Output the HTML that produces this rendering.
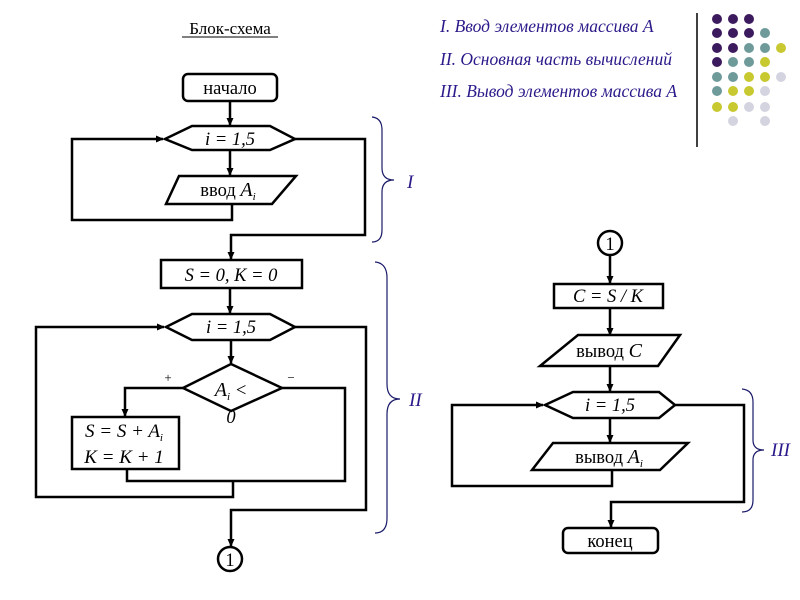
<!DOCTYPE html>
<html><head><meta charset="utf-8"><style>
html,body{margin:0;padding:0;background:#fff;}
svg{display:block;}
text{font-family:"Liberation Serif",serif;}
</style></head><body>
<svg width="800" height="600" viewBox="0 0 800 600" xmlns="http://www.w3.org/2000/svg">
<defs>
<marker id="a" markerWidth="8" markerHeight="8" refX="7" refY="4" orient="auto" markerUnits="userSpaceOnUse">
<path d="M0,0.5 L8,4 L0,7.5 Z" fill="#000"/></marker>
</defs>
<rect width="800" height="600" fill="#fff"/>
<!-- title -->
<text x="230" y="34" font-size="17" text-anchor="middle">Блок-схема</text>
<line x1="182" y1="37" x2="278" y2="37" stroke="#000" stroke-width="1"/>
<!-- legend -->
<g fill="#2a1a8a" font-style="italic" font-size="17.5">
<text x="440" y="32">I. Ввод элементов массива А</text>
<text x="440" y="65">II. Основная часть вычислений</text>
<text x="440" y="97">III. Вывод элементов массива А</text>
</g>
<line x1="697" y1="13" x2="697" y2="147" stroke="#000" stroke-width="1.5"/>
<g>
<circle cx="717" cy="19" r="5" fill="#3b1a5e"/><circle cx="733" cy="19" r="5" fill="#3b1a5e"/><circle cx="749" cy="19" r="5" fill="#3b1a5e"/>
<circle cx="717" cy="33" r="5" fill="#3b1a5e"/><circle cx="733" cy="33" r="5" fill="#3b1a5e"/><circle cx="749" cy="33" r="5" fill="#3b1a5e"/><circle cx="765" cy="33" r="5" fill="#6e9a9a"/>
<circle cx="717" cy="48" r="5" fill="#3b1a5e"/><circle cx="733" cy="48" r="5" fill="#3b1a5e"/><circle cx="749" cy="48" r="5" fill="#6e9a9a"/><circle cx="765" cy="48" r="5" fill="#6e9a9a"/><circle cx="781" cy="48" r="5" fill="#c8c830"/>
<circle cx="717" cy="62" r="5" fill="#3b1a5e"/><circle cx="733" cy="62" r="5" fill="#6e9a9a"/><circle cx="749" cy="62" r="5" fill="#6e9a9a"/><circle cx="765" cy="62" r="5" fill="#c8c830"/>
<circle cx="717" cy="77" r="5" fill="#6e9a9a"/><circle cx="733" cy="77" r="5" fill="#6e9a9a"/><circle cx="749" cy="77" r="5" fill="#c8c830"/><circle cx="765" cy="77" r="5" fill="#c8c830"/><circle cx="781" cy="77" r="5" fill="#d4d4e0"/>
<circle cx="717" cy="91" r="5" fill="#6e9a9a"/><circle cx="733" cy="91" r="5" fill="#c8c830"/><circle cx="749" cy="91" r="5" fill="#c8c830"/><circle cx="765" cy="91" r="5" fill="#d4d4e0"/>
<circle cx="717" cy="107" r="5" fill="#c8c830"/><circle cx="733" cy="107" r="5" fill="#c8c830"/><circle cx="749" cy="107" r="5" fill="#d4d4e0"/><circle cx="765" cy="107" r="5" fill="#d4d4e0"/>
<circle cx="733" cy="121" r="5" fill="#d4d4e0"/><circle cx="765" cy="121" r="5" fill="#d4d4e0"/>
</g>

<g fill="none" stroke="#000" stroke-width="2.5">
<!-- left chart -->
<rect x="183" y="74" width="94" height="27" rx="5"/>
<line x1="230" y1="101" x2="230" y2="125" marker-end="url(#a)"/>
<polygon points="165,139 192,126 270,126 295,139 270,150 192,150"/>
<line x1="230" y1="150" x2="230" y2="175" marker-end="url(#a)"/>
<polygon points="179,176 296,176 272,204 166,204"/>
<polyline points="232,204 232,220 72,220 72,139 163,139" marker-end="url(#a)"/>
<polyline points="295,139 365,139 365,235 231,235 231,259" marker-end="url(#a)"/>
<rect x="161" y="260" width="141" height="28"/>
<line x1="230" y1="288" x2="230" y2="313" marker-end="url(#a)"/>
<polygon points="166,327 192,314 270,314 295,327 270,340 192,340"/>
<line x1="231" y1="340" x2="231" y2="363" marker-end="url(#a)"/>
<polygon points="231,364 282,388 231,411 183,388"/>
<polyline points="183,388 125,388 125,416" marker-end="url(#a)"/>
<rect x="72" y="417" width="107" height="52"/>
<polyline points="282,388 345,388 345,481 127,481 127,469"/>
<polyline points="233,481 233,497 36,497 36,327 164,327" marker-end="url(#a)"/>
<polyline points="295,327 366,327 366,510 231,510 231,546" marker-end="url(#a)"/>
<circle cx="230" cy="559" r="12"/>
<!-- right chart -->
<circle cx="610" cy="243" r="12"/>
<line x1="610" y1="255" x2="610" y2="283" marker-end="url(#a)"/>
<rect x="554" y="284" width="109" height="24"/>
<line x1="610" y1="308" x2="610" y2="335" marker-end="url(#a)"/>
<polygon points="578,335 680,335 658,366 540,366"/>
<line x1="610" y1="366" x2="610" y2="391" marker-end="url(#a)"/>
<polygon points="545,405 573,392 659,392 675,405 659,418 573,418"/>
<line x1="610" y1="418" x2="610" y2="442" marker-end="url(#a)"/>
<polygon points="553,443 688,443 660,470 532,470"/>
<polyline points="612,470 612,486 452,486 452,405 543,405" marker-end="url(#a)"/>
<polyline points="675,405 744,405 744,502 611,502 611,527" marker-end="url(#a)"/>
<rect x="563" y="528" width="95" height="25" rx="5"/>
</g>
<!-- braces -->
<g fill="none" stroke="#1a1a6a" stroke-width="1.2">
<path d="M372,117 Q382,118 382,130 L382,168 Q382,180 394,180 Q382,180 382,192 L382,230 Q382,242 372,242"/>
<path d="M375,262 Q387,263 387,278 L387,384 Q387,399 400,399 Q387,399 387,414 L387,518 Q387,533 375,533"/>
<path d="M742,389 Q753,390 753,402 L753,440 Q753,450 764,450 Q753,450 753,460 L753,500 Q753,512 742,512"/>
</g>
<g fill="#2a1a8a" font-style="italic" font-size="19">
<text x="407" y="188">I</text>
<text x="409" y="406">II</text>
<text x="771" y="456">III</text>
</g>
<!-- labels -->
<g font-size="18.5" text-anchor="middle">
<text x="230" y="94">начало</text>
<text x="230" y="145" font-style="italic">i = 1,5</text>
<text x="228" y="196">ввод <tspan font-style="italic" font-size="20">A</tspan><tspan font-style="italic" font-size="11" dy="4">i</tspan></text>
<text x="231" y="281" font-style="italic">S = 0, K = 0</text>
<text x="231" y="333" font-style="italic">i = 1,5</text>
<text x="231" y="396" font-style="italic"><tspan font-size="20">A</tspan><tspan font-size="11" dy="4">i</tspan><tspan dy="-4"> &lt;</tspan></text>
<text x="231" y="423" font-style="italic" font-size="18.5">0</text>
<text x="124" y="437" font-style="italic" font-size="19">S = S + A<tspan font-size="11" dy="4">i</tspan></text>
<text x="124" y="463" font-style="italic" font-size="19">K = K + 1</text>
<text x="230" y="566">1</text>
<text x="610" y="250">1</text>
<text x="608" y="302" font-style="italic">C = S / K</text>
<text x="609" y="357">вывод <tspan font-style="italic" font-size="20">C</tspan></text>
<text x="610" y="411" font-style="italic">i = 1,5</text>
<text x="609" y="463">вывод <tspan font-style="italic" font-size="20">A</tspan><tspan font-style="italic" font-size="11" dy="4">i</tspan></text>
<text x="610" y="547">конец</text>
</g>
<text x="168" y="382" font-size="13" text-anchor="middle">+</text>
<text x="291" y="382" font-size="13" text-anchor="middle">−</text>
</svg>
</body></html>
